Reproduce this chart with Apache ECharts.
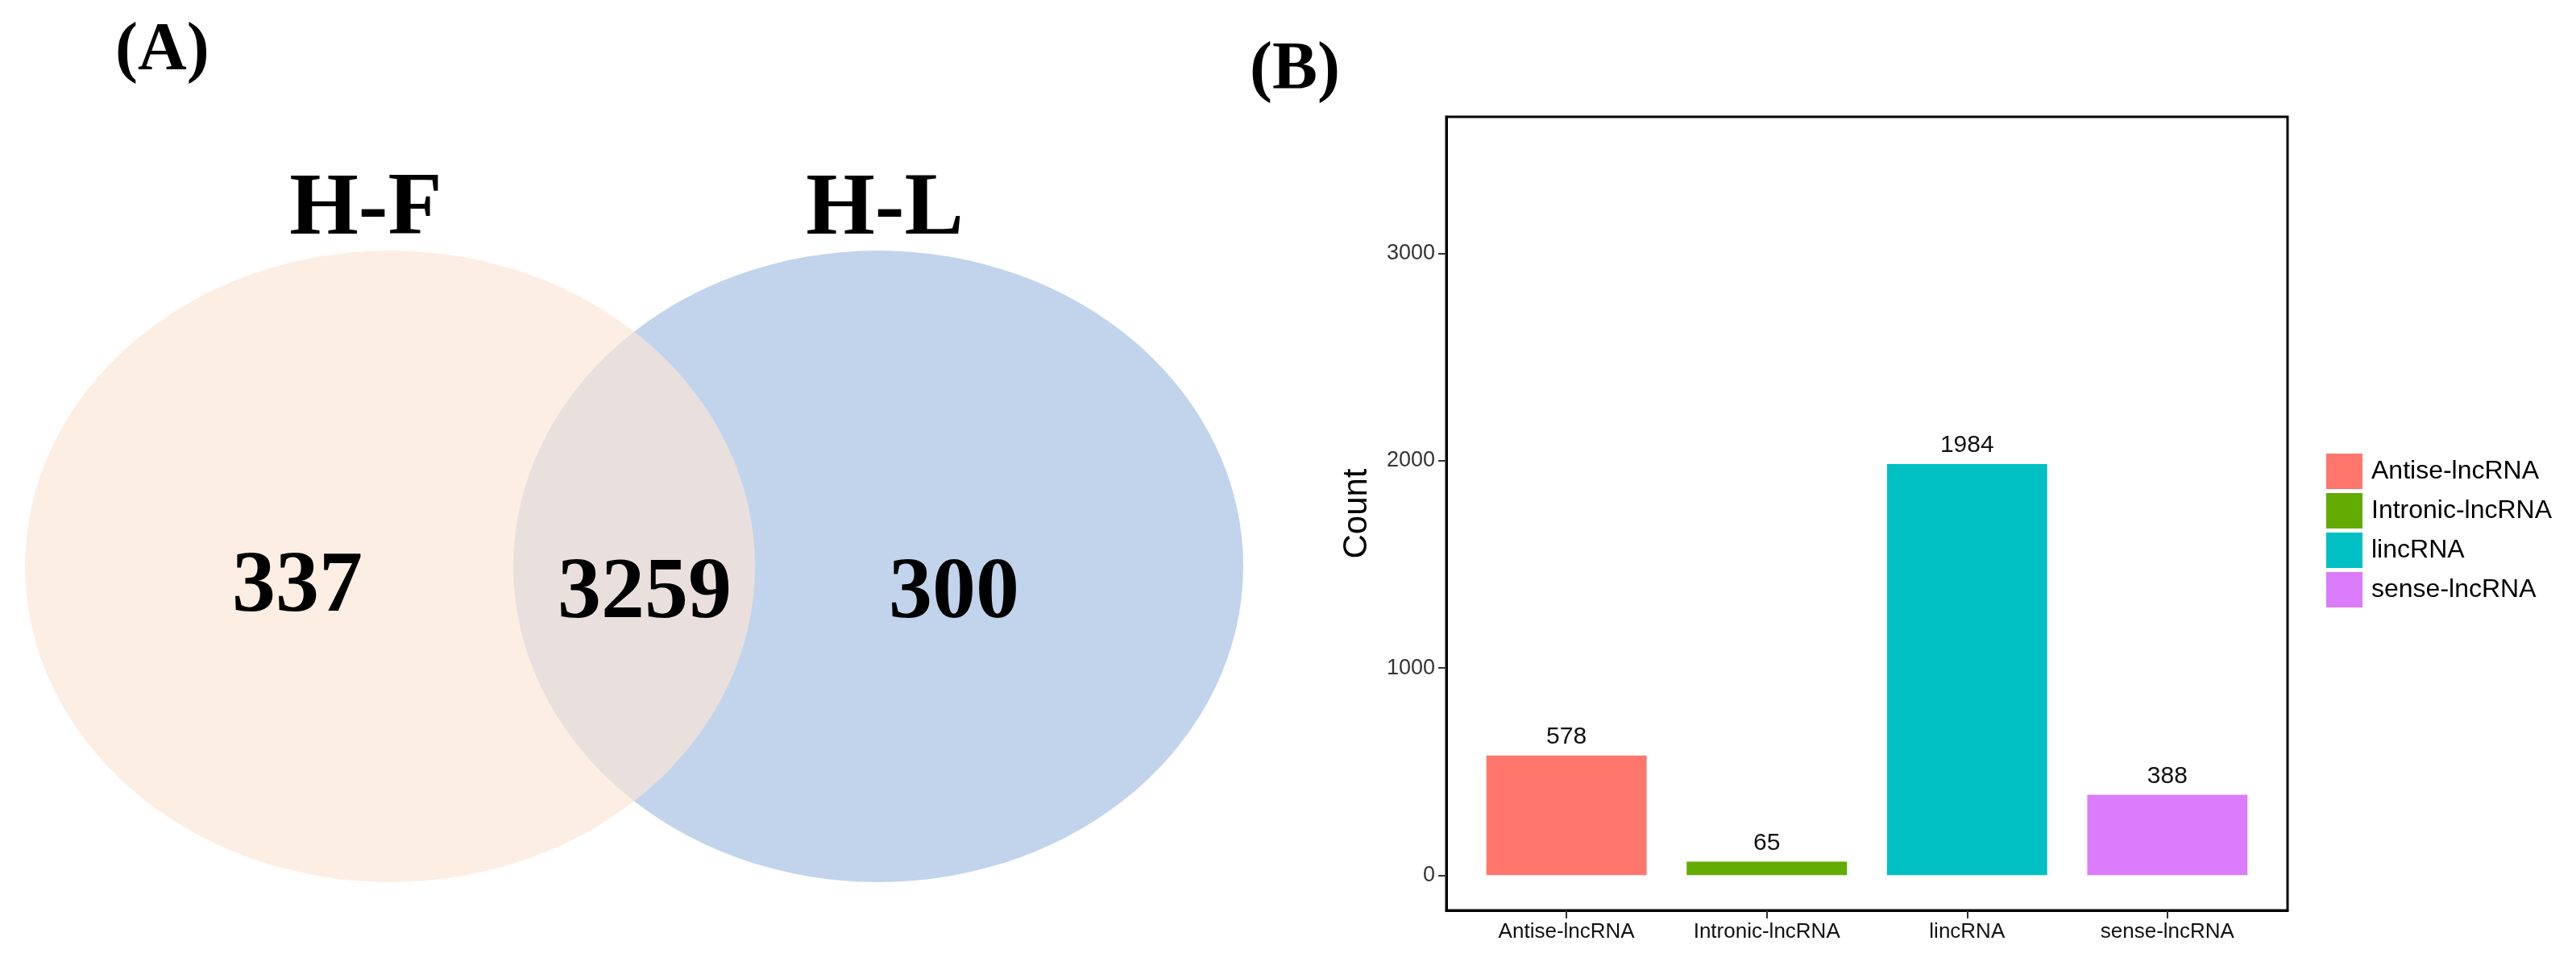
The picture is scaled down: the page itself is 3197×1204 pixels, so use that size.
<!DOCTYPE html>
<html>
<head>
<meta charset="utf-8">
<title>lncRNA overview</title>
<script src="https://cdn.jsdelivr.net/npm/echarts@6/dist/echarts.min.js"></script>
<style>
  html, body { margin: 0; padding: 0; background: #fff; }
  #chart { width: 3197px; height: 1204px; }
</style>
</head>
<body>
<div id="chart"></div>
<script>
// ---- data ----
// Venn (A)
const vennSets = ["H-F", "H-L"];
const vennCounts = [337, 3259, 300]; // H-F only, shared, H-L only
// bar chart (B)
const lncTypes = ["Antise-lncRNA", "Intronic-lncRNA", "lincRNA", "sense-lncRNA"];
const lncCounts = [578, 65, 1984, 388];
const countTicks = [0, 1000, 2000, 3000];

// ---- layout / styles (pixel positions, not data) ----
const vennCenters = [[484, 703], [1090, 703]];
const vennSize = [906, 784];
const vennSetLabelPos = [[454, 262], [1098, 262]];
const vennCountPos = [[369, 730], [800, 738], [1184, 738]];
const vennColors = ["#FCE6D7", "#C2D4EC"];
const barColors = ["#FF766D", "#63AB00", "#00C0C4", "#DB7CFA"];

const serif = "'Liberation Serif', 'Times New Roman', serif";
const sans = "'Liberation Sans', Arial, Helvetica, sans-serif";

// bar grid in pixels
const barGrid = { left: 1795, right: 358, top: 145, bottom: 74 };
const xMin = 0.4, xMax = 4.6;
const barPx = 0.8 * (3197 - barGrid.left - barGrid.right) / (xMax - xMin);

const ellipsePath = "path://M0,50 A50,50 0 1,1 100,50 A50,50 0 1,1 0,50 Z";

const chart = echarts.init(document.getElementById("chart"));

// bar series, one per type so the legend gets its own colours
const barSeries = lncTypes.map((name, i) => ({
  name: name,
  type: "bar",
  xAxisIndex: 1,
  yAxisIndex: 1,
  barWidth: barPx,
  barGap: "-100%",
  data: [[i + 1, lncCounts[i]]],
  itemStyle: { color: barColors[i] },
  label: {
    show: true,
    position: "top",
    distance: 8,
    formatter: (p) => p.value[1],
    color: "#111",
    fontSize: 30,
    fontFamily: sans,
  },
}));

// text helper for the venn labels (plain black, no scatter opacity)
function vennText(name, points, size) {
  return {
    name: name,
    type: "scatter",
    xAxisIndex: 0,
    yAxisIndex: 0,
    symbolSize: 0,
    silent: true,
    z: 5,
    data: points,
    itemStyle: { opacity: 1 },
    label: {
      show: true,
      position: "inside",
      formatter: (p) => String(p.data.text),
      color: "#000",
      opacity: 1,
      fontSize: size,
      fontWeight: "bold",
      fontFamily: serif,
    },
  };
}

// venn ellipses, H-L first so H-F sits on top semi-transparent
const vennSeries = [
  {
    name: "venn-" + vennSets[1],
    type: "scatter",
    xAxisIndex: 0,
    yAxisIndex: 0,
    symbol: ellipsePath,
    symbolSize: vennSize,
    symbolKeepAspect: false,
    silent: true,
    z: 1,
    data: [vennCenters[1]],
    itemStyle: { color: vennColors[1], opacity: 1 },
  },
  {
    name: "venn-" + vennSets[0],
    type: "scatter",
    xAxisIndex: 0,
    yAxisIndex: 0,
    symbol: ellipsePath,
    symbolSize: vennSize,
    symbolKeepAspect: false,
    silent: true,
    z: 2,
    data: [vennCenters[0]],
    itemStyle: { color: vennColors[0], opacity: 0.67 },
  },
  vennText("venn-counts", vennCounts.map((v, i) => ({ value: vennCountPos[i], text: v })), 108),
  vennText("venn-sets", vennSets.map((s, i) => ({ value: vennSetLabelPos[i], text: s })), 110),
];

const option = {
  backgroundColor: "#fff",
  animation: false,
  title: [
    {
      text: "(A)",
      left: 143,
      top: 22,
      padding: 0,
      textStyle: { fontFamily: serif, fontWeight: "bold", fontSize: 84, color: "#000" },
    },
    {
      text: "(B)",
      left: 1551,
      top: 46,
      padding: 0,
      textStyle: { fontFamily: serif, fontWeight: "bold", fontSize: 84, color: "#000" },
    },
  ],
  legend: {
    data: lncTypes,
    orient: "vertical",
    left: 2887,
    top: 563,
    padding: 0,
    icon: "rect",
    itemWidth: 45,
    itemHeight: 44,
    itemGap: 5,
    selectedMode: false,
    textStyle: { fontSize: 32, color: "#000", fontFamily: sans, padding: [0, 0, 0, 6] },
  },
  grid: [
    // hidden pixel grid for the venn diagram
    { left: 0, top: 0, width: 1600, height: 1204 },
    {
      left: barGrid.left,
      right: barGrid.right,
      top: barGrid.top,
      bottom: barGrid.bottom,
      show: true,
      borderColor: "#000",
      borderWidth: 3,
      backgroundColor: "#fff",
    },
  ],
  xAxis: [
    { gridIndex: 0, type: "value", min: 0, max: 1600, show: false },
    {
      gridIndex: 1,
      type: "value",
      min: xMin,
      max: xMax,
      splitLine: { show: false },
      axisLine: { show: true, onZero: false, lineStyle: { color: "#000", width: 3 } },
      axisTick: {
        show: true,
        customValues: [1, 2, 3, 4],
        length: 10,
        lineStyle: { color: "#333", width: 2 },
      },
      axisLabel: {
        customValues: [1, 2, 3, 4],
        formatter: (v) => lncTypes[Math.round(v) - 1],
        margin: 14,
        fontSize: 26,
        color: "#111",
        fontFamily: sans,
      },
    },
  ],
  yAxis: [
    { gridIndex: 0, type: "value", min: 0, max: 1204, inverse: true, show: false },
    {
      gridIndex: 1,
      type: "value",
      min: -170,
      max: 3660,
      name: "Count",
      nameLocation: "middle",
      nameGap: 90,
      nameTextStyle: { fontSize: 42, color: "#000", fontFamily: sans },
      splitLine: { show: false },
      axisLine: { show: true, onZero: false, lineStyle: { color: "#000", width: 3 } },
      axisTick: {
        show: true,
        customValues: countTicks,
        length: 10,
        lineStyle: { color: "#333", width: 2 },
      },
      axisLabel: {
        customValues: countTicks,
        formatter: (v) => String(v),
        margin: 14,
        fontSize: 27,
        color: "#333",
        fontFamily: sans,
      },
    },
  ],
  series: vennSeries.concat(barSeries),
};

chart.setOption(option);
</script>
</body>
</html>
